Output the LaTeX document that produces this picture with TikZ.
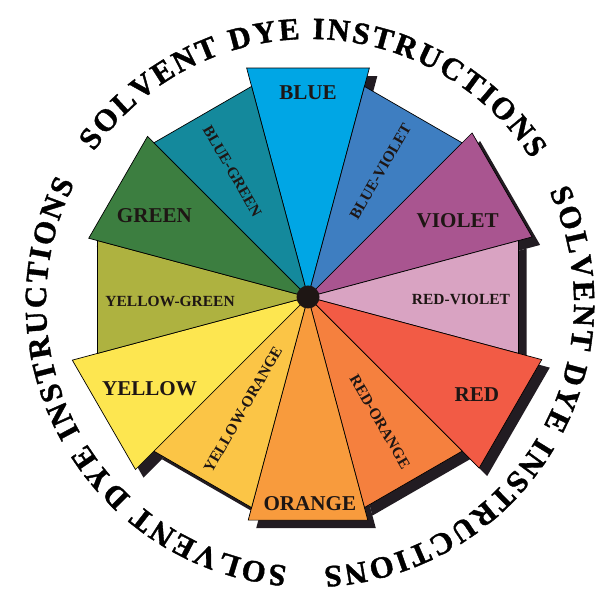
\documentclass[tikz,border=0pt]{standalone}
\usepackage{fontspec}
\setmainfont{Liberation Serif}
\newfontfamily\ringfont{Liberation Serif Bold}[FakeBold=1.2]
\newcommand\ringstyle{\ringfont\fontsize{22}{24}\selectfont}
\usetikzlibrary{decorations.text}

\definecolor{dyeblue}{HTML}{00A6E5}
\definecolor{dyeblueviolet}{HTML}{3E7EC1}
\definecolor{dyeviolet}{HTML}{A95590}
\definecolor{dyeredviolet}{HTML}{D9A3C2}
\definecolor{dyered}{HTML}{F25B45}
\definecolor{dyeredorange}{HTML}{F5803E}
\definecolor{dyeorange}{HTML}{F89B3D}
\definecolor{dyeyelloworange}{HTML}{FBC546}
\definecolor{dyeyellow}{HTML}{FDE650}
\definecolor{dyeyellowgreen}{HTML}{AEB240}
\definecolor{dyegreen}{HTML}{3C7E40}
\definecolor{dyebluegreen}{HTML}{14899C}
\definecolor{dyeshadow}{HTML}{221C22}
\definecolor{dyeink}{HTML}{1E1614}

\begin{document}
\begin{tikzpicture}[
    x=0.025cm,
    y=0.025cm,
    wedge/.style={draw=black,line width=0.5pt,line join=miter},
    bigname/.style={font=\bfseries\fontsize{15}{17}\selectfont,text=dyeink,inner sep=0pt},
    smallname/.style={font=\bfseries\fontsize{11}{13}\selectfont,text=dyeink,inner sep=0pt},
    ringtext/.style={decorate,decoration={text along path,text align=fit to path,
      text={|\ringstyle|SOLVENT DYE INSTRUCTIONS}}}
  ]
    \useasboundingbox (0,0) rectangle (602,596);
    \coordinate (hub) at (308,299);
    \coordinate (ring) at (310,293);

    \foreach \a/\r in {90/237,60/218,30/232,0/218,-30/242,-60/218,
                       -90/231,-120/218,-150/244,180/218,150/227,120/218}
      \fill[dyeshadow] ([shift={(8,-8)}]hub) -- +(\a+15:\r) -- +(\a-15:\r) -- cycle;

    \foreach \a/\r/\c in {90/237/dyeblue,60/218/dyeblueviolet,30/232/dyeviolet,
                          0/218/dyeredviolet,-30/242/dyered,-60/218/dyeredorange,
                          -90/231/dyeorange,-120/218/dyeyelloworange,-150/244/dyeyellow,
                          180/218/dyeyellowgreen,150/227/dyegreen,120/218/dyebluegreen}
      \filldraw[wedge,fill=\c] (hub) -- +(\a+15:\r) -- +(\a-15:\r) -- cycle;

    \fill[dyeink] (hub) circle[radius=11.5];

    \node[bigname] (nblue) at ([shift={(90:204)}]hub) {BLUE};
    \node[bigname] (nviolet) at ([shift={(27:168)}]hub) {VIOLET};
    \node[bigname] (nred) at ([shift={(-30:195)}]hub) {RED};
    \node[bigname] (norange) at ([shift={(-89.5:207)}]hub) {ORANGE};
    \node[bigname] (nyellow) at ([shift={(-150:183)}]hub) {YELLOW};
    \node[bigname] (ngreen) at ([shift={(152:174)}]hub) {GREEN};

    \node[smallname] (nredviolet) at ([shift={(-1:153)}]hub) {RED-VIOLET};
    \node[smallname] (nyellowgreen) at ([shift={(182:138)}]hub) {YELLOW-GREEN};
    \node[smallname,rotate=-60] (nbluegreen) at ([shift={(121:147)}]hub) {BLUE-GREEN};
    \node[smallname,rotate=60] (nblueviolet) at ([shift={(60:145)}]hub) {BLUE-VIOLET};
    \node[smallname,rotate=60] (nyelloworange) at ([shift={(240:130)}]hub) {YELLOW-ORANGE};
    \node[smallname,rotate=-60] (nredorange) at ([shift={(-60:144)}]hub) {RED-ORANGE};

    \path[ringtext] ([shift={(145:264)}]ring) arc[start angle=145,end angle=33,radius=264];
    \path[ringtext] ([shift={(25:264)}]ring) arc[start angle=25,end angle=-87,radius=264];
    \path[ringtext] ([shift={(-95:264)}]ring) arc[start angle=-95,end angle=-207,radius=264];
  \end{tikzpicture}
\end{document}
